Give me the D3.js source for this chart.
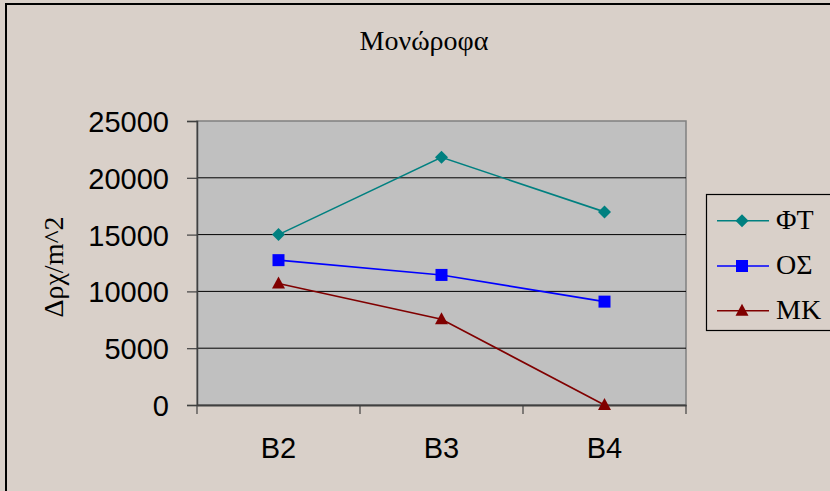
<!DOCTYPE html>
<html>
<head>
<meta charset="utf-8">
<script src="https://cdn.jsdelivr.net/npm/d3@7"></script>
<style>
  html, body { margin: 0; padding: 0; background: #d9d0c9; }
  svg { display: block; }
</style>
</head>
<body>
<svg id="chart" width="830" height="491"></svg>
<script>
const title = "Μονώροφα";
const yAxisTitle = "Δρχ/m^2";
const categories = ["B2", "B3", "B4"];
const seriesNames = ["ΦΤ", "ΟΣ", "ΜΚ"];
const valuesFT = [15000, 21800, 17000];
const valuesOS = [12750, 11450, 9100];
const valuesMK = [10700, 7550, 0];
const yTicks = [0, 5000, 10000, 15000, 20000, 25000];

const series = [
  { name: seriesNames[0], values: valuesFT, color: "#008080", symbol: d3.symbolDiamond2 },
  { name: seriesNames[1], values: valuesOS, color: "#0000ff", symbol: "square" },
  { name: seriesNames[2], values: valuesMK, color: "#800000", symbol: "triangle" }
];

const svg = d3.select("#chart");
const bg = "#d9d0c9";

// frame
svg.append("rect").attr("x", 0).attr("y", 0).attr("width", 830).attr("height", 491).attr("fill", bg);
svg.append("rect").attr("x", 6).attr("y", 4).attr("width", 840).attr("height", 500)
  .attr("fill", bg).attr("stroke", "#000").attr("stroke-width", 2);

const L = 197, R = 686, T = 121, B = 405;
const x = d3.scaleBand().domain(categories).range([L, R]).padding(0);
const y = d3.scaleLinear().domain([0, 25000]).range([B, T]);

// plot area
svg.append("rect").attr("x", L).attr("y", T).attr("width", R - L).attr("height", B - T)
  .attr("fill", "#c0c0c0").attr("stroke", "#808080").attr("stroke-width", 1.5);

// gridlines
svg.append("g").selectAll("line").data(yTicks.filter(v => v > 0 && v < 25000)).join("line")
  .attr("x1", L).attr("x2", R).attr("y1", d => y(d)).attr("y2", d => y(d))
  .attr("stroke", "#000").attr("stroke-width", 1);

// y axis
const yAxis = d3.axisLeft(y).tickValues(yTicks).tickSize(10).tickPadding(18).tickFormat(d3.format("d"));
const gy = svg.append("g").attr("transform", `translate(${L},0)`).call(yAxis);
gy.select(".domain").attr("stroke", "#404040").attr("stroke-width", 1.5);
gy.selectAll(".tick line").attr("stroke", "#404040").attr("stroke-width", 1.2);
gy.selectAll(".tick text").attr("font-family", "'Liberation Sans', Arial, sans-serif")
  .attr("font-size", 29).attr("fill", "#000").attr("dy", "0.36em");

// x axis
const xAxis = d3.axisBottom(x).tickSize(0).tickPadding(0);
const gx = svg.append("g").attr("transform", `translate(0,${B})`).call(xAxis);
gx.select(".domain").attr("stroke", "#404040").attr("stroke-width", 2);
gx.selectAll(".tick text").attr("font-family", "'Liberation Sans', Arial, sans-serif")
  .attr("font-size", 29).attr("fill", "#000").attr("y", 53).attr("dy", 0);
// x tick marks at category boundaries
const bounds = categories.map(c => x(c)).concat([x(categories[categories.length - 1]) + x.bandwidth()]);
svg.append("g").selectAll("line").data(bounds).join("line")
  .attr("x1", d => d).attr("x2", d => d).attr("y1", B).attr("y2", B + 9)
  .attr("stroke", "#404040").attr("stroke-width", 1.2);

// title
svg.append("text").attr("x", 424).attr("y", 49.5).attr("text-anchor", "middle")
  .attr("font-family", "'Liberation Serif', 'Times New Roman', serif").attr("font-size", 28)
  .attr("fill", "#000").text(title);

// y axis title
svg.append("text").attr("transform", "translate(63,267) rotate(-90)").attr("text-anchor", "middle")
  .attr("font-family", "'Liberation Serif', 'Times New Roman', serif").attr("font-size", 28)
  .attr("fill", "#000").text(yAxisTitle);

function drawMarker(g, s, cx, cy) {
  if (s.symbol === "square") {
    g.append("rect").attr("x", cx - 6).attr("y", cy - 6).attr("width", 12).attr("height", 12)
      .attr("fill", s.color);
  } else if (s.symbol === "triangle") {
    g.append("path").attr("d", `M${cx},${cy - 7}L${cx + 6.5},${cy + 5}L${cx - 6.5},${cy + 5}Z`)
      .attr("fill", s.color);
  } else {
    g.append("path").attr("d", `M${cx},${cy - 6.5}L${cx + 6.5},${cy}L${cx},${cy + 6.5}L${cx - 6.5},${cy}Z`)
      .attr("fill", s.color);
  }
}

const cxOf = c => x(c) + x.bandwidth() / 2;
const line = d3.line().x((d, i) => cxOf(categories[i])).y(d => y(d));

series.forEach(s => {
  const g = svg.append("g");
  g.append("path").attr("d", line(s.values)).attr("fill", "none")
    .attr("stroke", s.color).attr("stroke-width", 1.6);
  s.values.forEach((v, i) => drawMarker(g, s, cxOf(categories[i]), y(v)));
});

// legend
svg.append("rect").attr("x", 706.5).attr("y", 194.5).attr("width", 140).attr("height", 136)
  .attr("fill", bg).attr("stroke", "#000").attr("stroke-width", 1.2);
const legendRows = [220.7, 266, 310.7];
series.forEach((s, i) => {
  const g = svg.append("g");
  const ly = legendRows[i];
  g.append("line").attr("x1", 717).attr("x2", 769).attr("y1", ly).attr("y2", ly)
    .attr("stroke", s.color).attr("stroke-width", 1.6);
  drawMarker(g, s, 742, ly);
  g.append("text").attr("x", 776).attr("y", ly + 8)
    .attr("font-family", "'Liberation Serif', 'Times New Roman', serif").attr("font-size", 28)
    .attr("fill", "#000").text(s.name);
});
</script>
</body>
</html>
